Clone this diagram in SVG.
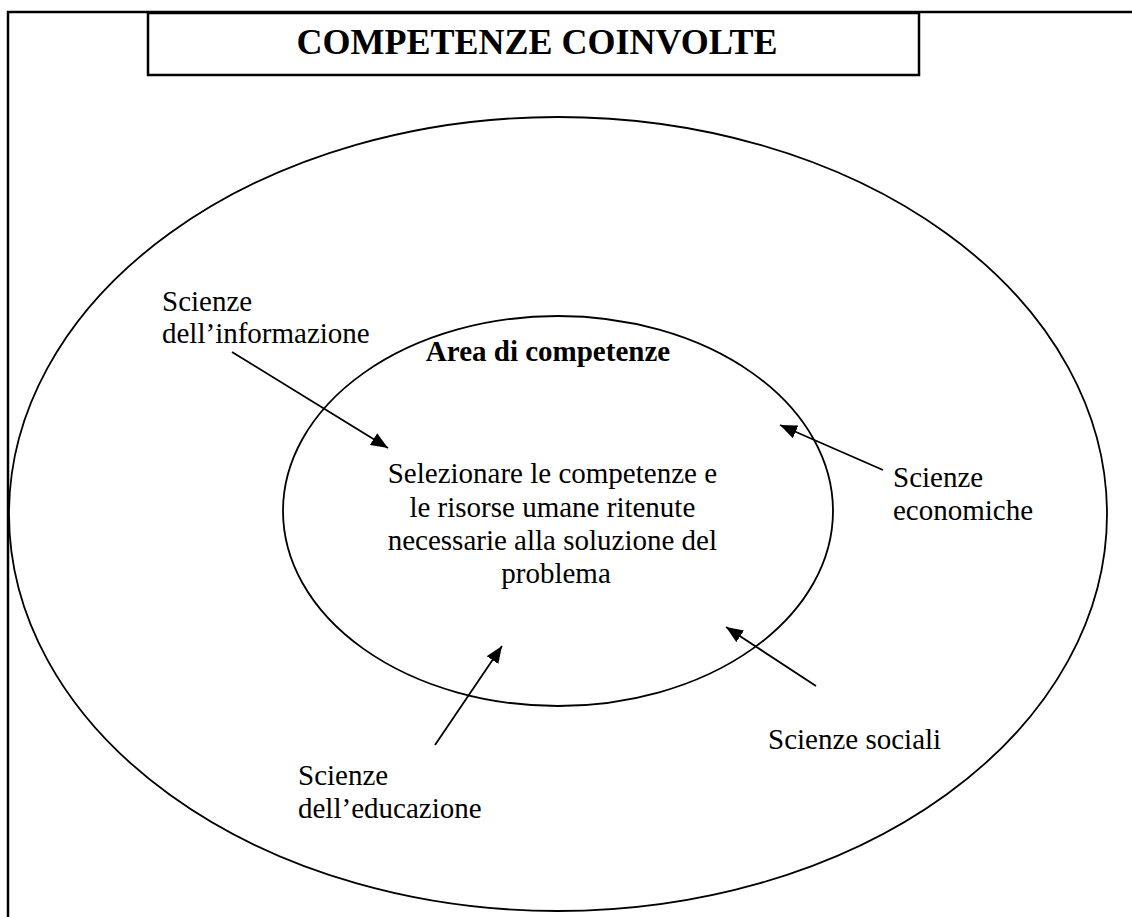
<svg xmlns="http://www.w3.org/2000/svg" width="1132" height="917" viewBox="0 0 1132 917">
  <style>
    .frame { fill: none; stroke: #000; stroke-width: 2.5; }
    .ring { fill: none; stroke: #000; stroke-width: 1.8; }
    .lbl { font-family: "Liberation Serif", "Times New Roman", serif; font-size: 29px; fill: #000; }
    .bold { font-weight: bold; }
    .title { font-family: "Liberation Serif", "Times New Roman", serif; font-size: 36px; font-weight: bold; fill: #000; }
    .arrow { stroke: #000; stroke-width: 1.8; fill: none; marker-end: url(#head); }
  </style>
  <defs>
    <marker id="head" markerUnits="userSpaceOnUse" markerWidth="18" markerHeight="14" refX="17" refY="7" orient="auto">
      <path d="M0,0 L17,7 L0,14 Z" fill="#000"/>
    </marker>
    <!-- the education label sits in a text box that cuts off its lower edge -->
    <clipPath id="edu-box">
      <rect x="290" y="755" width="220" height="64"/>
    </clipPath>
  </defs>
  <rect width="1132" height="917" fill="#fff"/>

  <!-- page frame: top rule and left rule -->
  <path class="frame" d="M8,917 L8,12 L1132,12"/>

  <!-- title box -->
  <g id="title">
    <rect class="frame" x="148" y="13" width="771" height="62" fill="#fff"/>
    <text class="title" x="537" y="54" text-anchor="middle">COMPETENZE COINVOLTE</text>
  </g>

  <!-- outer domain -->
  <g id="outer-area">
    <ellipse class="ring" cx="558" cy="514" rx="549" ry="397"/>
  </g>

  <!-- inner area of competences -->
  <g id="inner-area">
    <ellipse class="ring" cx="558" cy="511" rx="275" ry="195"/>
    <text class="lbl bold" x="548" y="361" text-anchor="middle">Area di competenze</text>
    <text class="lbl" text-anchor="middle">
      <tspan x="556" y="483">Selezionare le competenze e</tspan>
      <tspan x="556" y="517">le risorse umane ritenute</tspan>
      <tspan x="556" y="550">necessarie alla soluzione del</tspan>
      <tspan x="556" y="583">problema</tspan>
    </text>
  </g>

  <g id="informazione">
    <text class="lbl"><tspan x="162" y="311">Scienze</tspan><tspan x="162" y="343">dell’informazione</tspan></text>
  </g>

  <g id="economiche">
    <text class="lbl"><tspan x="893" y="487">Scienze</tspan><tspan x="893" y="520">economiche</tspan></text>
  </g>

  <g id="sociali">
    <text class="lbl" x="768" y="749">Scienze sociali</text>
  </g>

  <g id="educazione" clip-path="url(#edu-box)">
    <text class="lbl"><tspan x="298" y="785">Scienze</tspan><tspan x="298" y="818">dell’educazione</tspan></text>
  </g>

  <!-- connectors -->
  <g id="connectors">
    <line class="arrow" x1="232" y1="352" x2="388" y2="448"/>
    <line class="arrow" x1="883" y1="470" x2="780" y2="425"/>
    <line class="arrow" x1="816" y1="686" x2="726" y2="627"/>
    <line class="arrow" x1="435" y1="745" x2="502" y2="646"/>
  </g>
</svg>
